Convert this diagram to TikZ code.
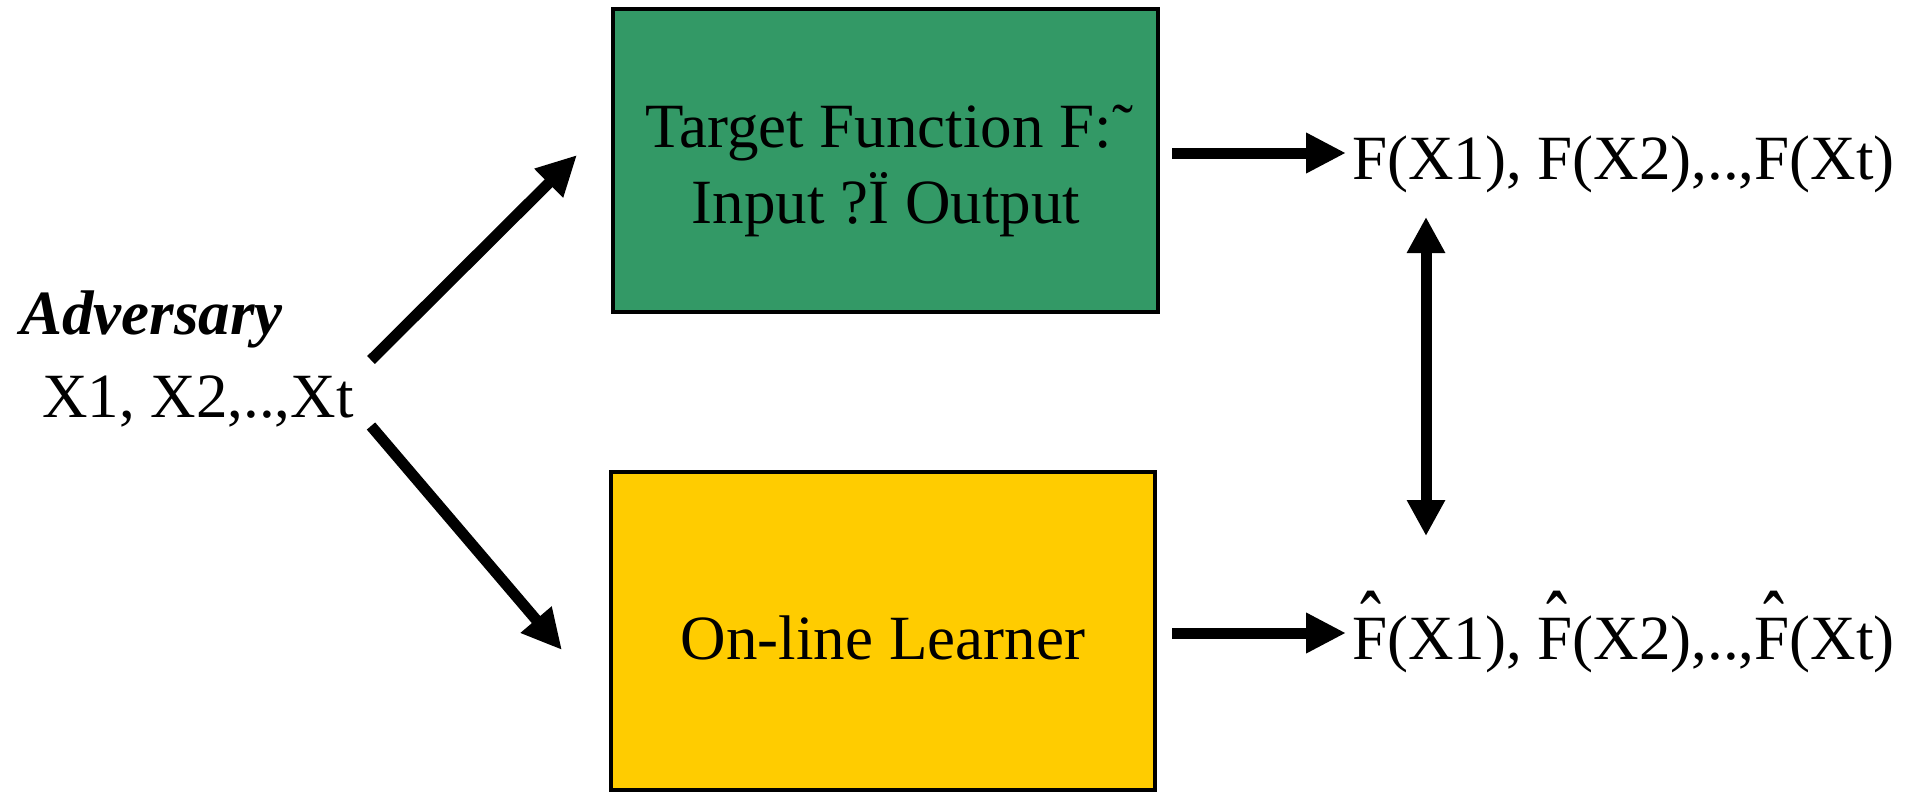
\documentclass[tikz,border=0pt]{standalone}
\usepackage{fontspec}
\setmainfont{Liberation Serif}
\usetikzlibrary{arrows.meta}
\definecolor{boxgreen}{HTML}{339966}
\definecolor{boxyellow}{HTML}{FFCC00}
% F with a tall, raised circumflex above it
\newcommand\estF{\makebox[0pt][l]{\makebox[0.611em]{\raisebox{0.11em}{\scalebox{1}[1.4]{ˆ}}}}F}
\begin{document}
\begin{tikzpicture}[x=1pt,y=-1pt,
  lbl/.style={font=\fontsize{63}{76}\selectfont, inner sep=0pt},
  block/.style={draw=black, line width=4pt, inner sep=0pt},
  flow/.style={line width=11pt, -{Triangle[length=40pt,width=38pt]}},
  dflow/.style={line width=11pt, {Triangle[length=36pt,width=36pt]}-{Triangle[length=36pt,width=36pt]}},
  ]
\useasboundingbox (0,0) rectangle (1924,793);

% the two blocks
\node[block, fill=boxgreen, minimum width=545pt, minimum height=303pt] (target) at (885.5,160.5) {};
\node[block, fill=boxyellow, minimum width=544pt, minimum height=318pt] (learner) at (883,631) {};

% block texts
\node[lbl, anchor=base] (targetA) at (889,147) {Target Function F:˜};
\node[lbl, anchor=base] (targetB) at (886,223) {Input ?Ï Output};
\node[lbl, anchor=base] (learnerT) at (883,659) {On-line Learner};

% adversary and its inputs
\node[lbl, anchor=base, font=\fontsize{63}{76}\selectfont\bfseries\itshape] (adv) at (151.5,334) {Adversary};
\node[lbl, anchor=base] (xs) at (198,417) {X1, X2,..,Xt};

% outputs
\node[lbl, anchor=base west] (fx) at (1352,179) {F(X1), F(X2),..,F(Xt)};
\node[lbl, anchor=base west] (fhat) at (1352,659) {\estF(X1), \estF(X2),..,\estF(Xt)};

% arrow end points
\coordinate (upS) at (371,360);
\coordinate (upE) at (577,155);
\coordinate (dnS) at (371,426);
\coordinate (dnE) at (562,650);
\coordinate (tOut) at (1172,153);
\coordinate (tIn) at (1346,153);
\coordinate (lOut) at (1172,633);
\coordinate (lIn) at (1346,633);
\coordinate (cmpT) at (1426,217);
\coordinate (cmpB) at (1426,536);

\draw[flow] (upS) -- (upE);
\draw[flow] (dnS) -- (dnE);
\draw[flow] (tOut) -- (tIn);
\draw[flow] (lOut) -- (lIn);
\draw[dflow] (cmpT) -- (cmpB);
\end{tikzpicture}
\end{document}
